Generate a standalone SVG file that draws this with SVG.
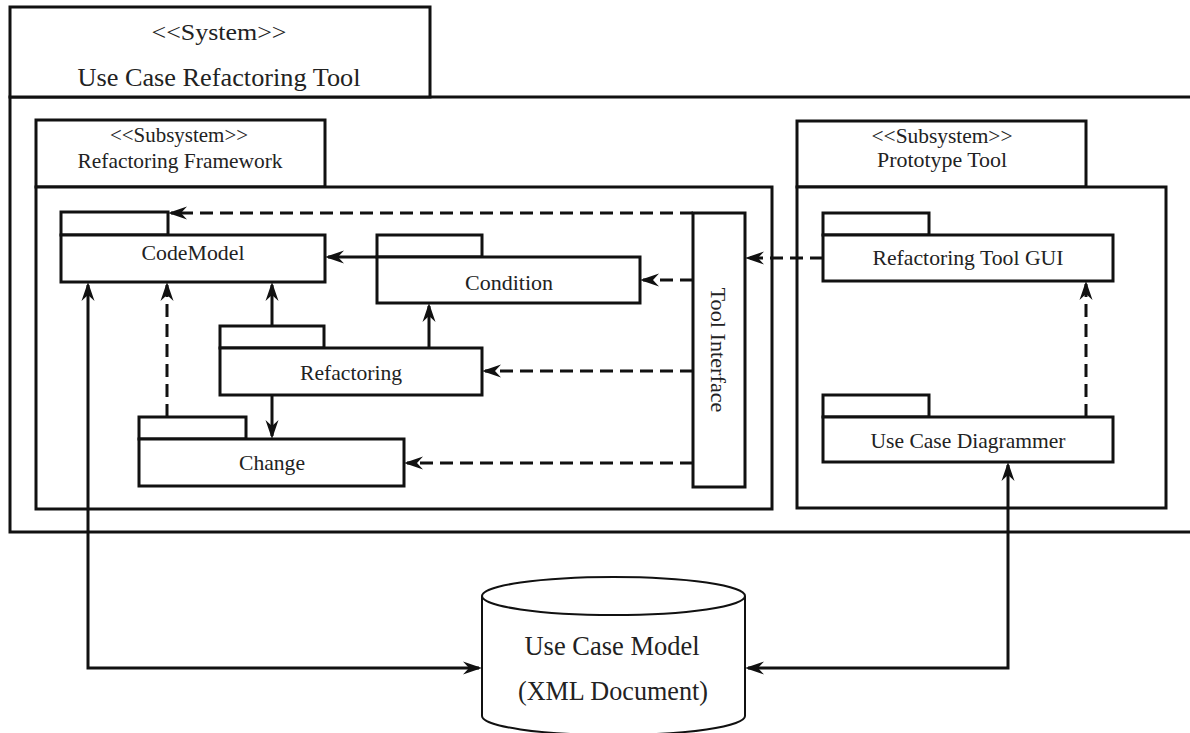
<svg xmlns="http://www.w3.org/2000/svg" width="1190" height="733" viewBox="0 0 1190 733">
  <style>
    .box { fill: #ffffff; stroke: #111; stroke-width: 3; }
    .cyl { fill: #ffffff; stroke: #111; stroke-width: 2; }
    .lbl { font-family: "Liberation Serif", "Times New Roman", serif; fill: #222; text-anchor: middle; }
    .con { fill: none; stroke: #111; stroke-width: 3; }
    .dash { stroke-dasharray: 13 7; }
    .arr { marker-end: url(#head); }
    .both { marker-start: url(#head); marker-end: url(#head); }
  </style>
  <defs>
    <marker id="head" markerUnits="userSpaceOnUse" viewBox="0 0 19 14" markerWidth="19" markerHeight="14" refX="16" refY="7" orient="auto-start-reverse">
      <path d="M0,0.5 L19,7 L0,13.5 L6,7 Z" fill="#111"/>
    </marker>
  </defs>

  <rect width="1190" height="733" fill="#ffffff"/>

  <!-- System frame -->
  <g id="system">
    <rect class="box" x="10" y="97" width="1200" height="435"/>
    <rect class="box" x="10" y="7" width="420" height="90"/>
    <text class="lbl" x="219" y="40" font-size="24" textLength="135" lengthAdjust="spacingAndGlyphs">&lt;&lt;System&gt;&gt;</text>
    <text class="lbl" x="219" y="86" font-size="25" textLength="283" lengthAdjust="spacingAndGlyphs">Use Case Refactoring Tool</text>
  </g>

  <!-- Refactoring Framework subsystem -->
  <g id="refactoring-framework">
    <rect class="box" x="36" y="120" width="289" height="67"/>
    <rect class="box" x="36" y="187" width="736" height="322"/>
    <text class="lbl" x="179" y="142" font-size="20" textLength="138" lengthAdjust="spacingAndGlyphs">&lt;&lt;Subsystem&gt;&gt;</text>
    <text class="lbl" x="180" y="168" font-size="22" textLength="205" lengthAdjust="spacingAndGlyphs">Refactoring Framework</text>
  </g>

  <!-- Prototype Tool subsystem -->
  <g id="prototype-tool">
    <rect class="box" x="797" y="121" width="289" height="66"/>
    <rect class="box" x="797" y="187" width="369" height="321"/>
    <text class="lbl" x="942" y="143" font-size="20" textLength="141" lengthAdjust="spacingAndGlyphs">&lt;&lt;Subsystem&gt;&gt;</text>
    <text class="lbl" x="942" y="167" font-size="22" textLength="130" lengthAdjust="spacingAndGlyphs">Prototype Tool</text>
  </g>

  <g id="codemodel">
    <rect class="box" x="61" y="212" width="107" height="23"/>
    <rect class="box" x="61" y="235" width="264" height="47"/>
    <text class="lbl" x="193" y="260" font-size="22" textLength="103" lengthAdjust="spacingAndGlyphs">CodeModel</text>
  </g>

  <g id="condition">
    <rect class="box" x="377" y="235" width="105" height="22"/>
    <rect class="box" x="377" y="257" width="263" height="46"/>
    <text class="lbl" x="509" y="290" font-size="22" textLength="88" lengthAdjust="spacingAndGlyphs">Condition</text>
  </g>

  <g id="refactoring">
    <rect class="box" x="220" y="326" width="104" height="22"/>
    <rect class="box" x="220" y="348" width="262" height="47"/>
    <text class="lbl" x="351" y="380" font-size="22" textLength="102" lengthAdjust="spacingAndGlyphs">Refactoring</text>
  </g>

  <g id="change">
    <rect class="box" x="139" y="417" width="107" height="22"/>
    <rect class="box" x="139" y="439" width="265" height="47"/>
    <text class="lbl" x="272" y="470" font-size="22" textLength="66" lengthAdjust="spacingAndGlyphs">Change</text>
  </g>

  <g id="tool-interface">
    <rect class="box" x="693" y="213" width="52" height="274"/>
    <text class="lbl" transform="translate(711,350) rotate(90)" x="0" y="0" font-size="22" textLength="125" lengthAdjust="spacingAndGlyphs">Tool Interface</text>
  </g>

  <g id="refactoring-tool-gui">
    <rect class="box" x="823" y="213" width="106" height="22"/>
    <rect class="box" x="823" y="235" width="290" height="46"/>
    <text class="lbl" x="968" y="265" font-size="22" textLength="191" lengthAdjust="spacingAndGlyphs">Refactoring Tool GUI</text>
  </g>

  <g id="use-case-diagrammer">
    <rect class="box" x="823" y="395" width="106" height="22"/>
    <rect class="box" x="823" y="417" width="290" height="45"/>
    <text class="lbl" x="968" y="448" font-size="22" textLength="195" lengthAdjust="spacingAndGlyphs">Use Case Diagrammer</text>
  </g>

  <!-- Data store -->
  <g id="use-case-model">
    <path class="cyl" d="M482,596 L482,716 A131.5,19 0 0 0 745,716 L745,596"/>
    <ellipse class="cyl" cx="613.5" cy="596" rx="131.5" ry="19"/>
    <text class="lbl" x="612" y="655" font-size="27" textLength="175" lengthAdjust="spacingAndGlyphs">Use Case Model</text>
    <text class="lbl" x="613" y="700" font-size="27" textLength="190" lengthAdjust="spacingAndGlyphs">(XML Document)</text>
  </g>

  <!-- Dependencies and data flows -->
  <g id="connectors">
    <path class="con dash arr" d="M693,213 H171"/>
    <path class="con arr" d="M377,257 H328"/>
    <path class="con dash arr" d="M693,280 H643"/>
    <path class="con dash arr" d="M693,371 H485"/>
    <path class="con dash arr" d="M693,463 H407"/>
    <path class="con arr" d="M272,326 V285"/>
    <path class="con arr" d="M429,348 V306"/>
    <path class="con arr" d="M272,395 V436"/>
    <path class="con dash arr" d="M167,417 V285"/>
    <path class="con dash arr" d="M823,258 H748"/>
    <path class="con dash arr" d="M1086,417 V284"/>
    <path class="con both" d="M88,285 V668 H479"/>
    <path class="con both" d="M1008,465 V668 H748"/>
  </g>
</svg>
